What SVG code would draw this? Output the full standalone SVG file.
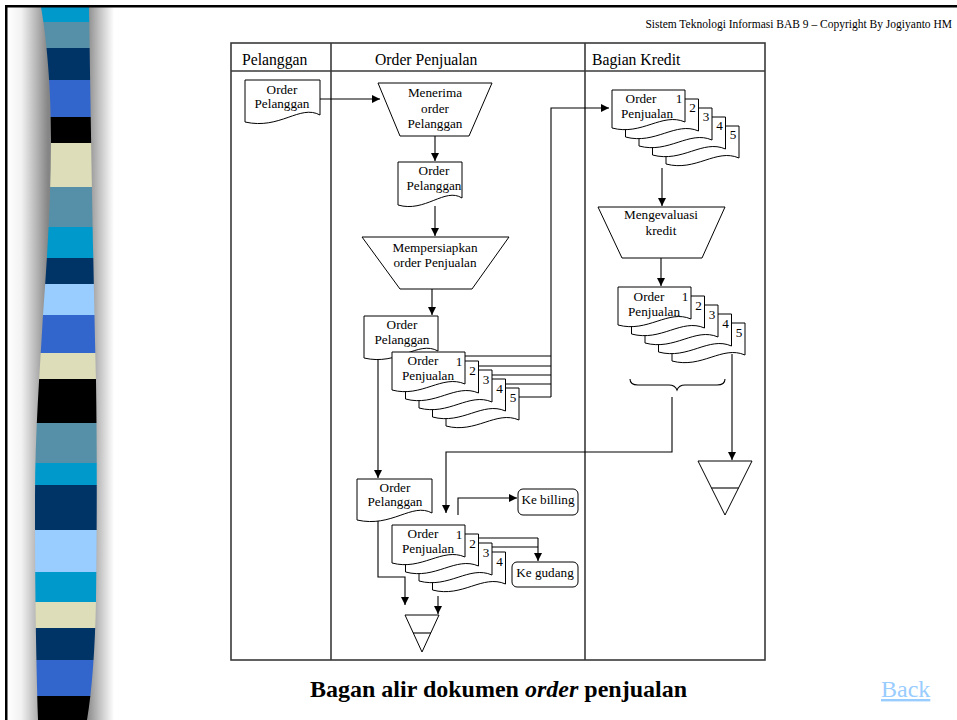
<svg xmlns="http://www.w3.org/2000/svg" xmlns:xlink="http://www.w3.org/1999/xlink" width="957" height="720" viewBox="0 0 957 720">
<style>
.ln{stroke:#000;stroke-width:1.1;fill:none}
.arr{marker-end:url(#ah)}
.doc{fill:#fff;stroke:#000;stroke-width:1}
.lane{stroke:#3a3a3a;stroke-width:1.6;fill:none}
.t{font-family:"Liberation Serif","Times New Roman",serif;font-size:13.2px;text-anchor:middle;fill:#000}
.h{font-family:"Liberation Serif","Times New Roman",serif;font-size:15.7px;fill:#000}
.n{font-family:"Liberation Serif","Times New Roman",serif;font-size:13.2px;text-anchor:middle;fill:#000}
</style>
<defs>
<marker id="ah" viewBox="0 0 10 10" refX="10" refY="5" markerWidth="9" markerHeight="8" markerUnits="userSpaceOnUse" orient="auto">
<path d="M0,0 L10,5 L0,10 Z" fill="#000"/>
</marker>
<path id="sd" d="M0,0 H73 V32 C50,22 30,46 0,38 Z"/>
<linearGradient id="gl" gradientUnits="userSpaceOnUse" x1="7" y1="0" x2="48" y2="0">
<stop offset="0" stop-color="#ffffff"/>
<stop offset="0.35" stop-color="#f2f2f2"/>
<stop offset="0.75" stop-color="#b0b0b0"/>
<stop offset="1" stop-color="#858585"/>
</linearGradient>
<linearGradient id="gr" gradientUnits="userSpaceOnUse" x1="86" y1="0" x2="114" y2="0">
<stop offset="0" stop-color="#858585"/>
<stop offset="0.4" stop-color="#b8b8b8"/>
<stop offset="1" stop-color="#ffffff"/>
</linearGradient>
<clipPath id="strip">
<path d="M41,7 C47,40 51,90 51,140 C51,200 47,260 43,315 C40,370 35,430 35,500 C35,590 36,650 38,720 L87,720 C92,690 95,650 96,600 C97,520 97,450 96,380 C94,300 92,200 89,7 Z"/>
</clipPath>
</defs>
<rect x="0" y="0" width="957" height="720" fill="#fff"/>
<g id="sidebar">
<rect x="7" y="7" width="45" height="713" fill="url(#gl)"/>
<rect x="86" y="7" width="30" height="713" fill="url(#gr)"/>
<g clip-path="url(#strip)">
<rect x="30" y="7" width="75" height="15" fill="#0099CC"/>
<rect x="30" y="22" width="75" height="26" fill="#5590A8"/>
<rect x="30" y="48" width="75" height="32" fill="#003366"/>
<rect x="30" y="80" width="75" height="37" fill="#3366CC"/>
<rect x="30" y="117" width="75" height="26" fill="#000000"/>
<rect x="30" y="143" width="75" height="44" fill="#DDDDB9"/>
<rect x="30" y="187" width="75" height="40" fill="#5590A8"/>
<rect x="30" y="227" width="75" height="31" fill="#0099CC"/>
<rect x="30" y="258" width="75" height="26" fill="#003366"/>
<rect x="30" y="284" width="75" height="31" fill="#99CCFF"/>
<rect x="30" y="315" width="75" height="38" fill="#3366CC"/>
<rect x="30" y="353" width="75" height="26" fill="#DDDDB9"/>
<rect x="30" y="379" width="75" height="44" fill="#000000"/>
<rect x="30" y="423" width="75" height="40" fill="#5590A8"/>
<rect x="30" y="463" width="75" height="22" fill="#0099CC"/>
<rect x="30" y="485" width="75" height="45" fill="#003366"/>
<rect x="30" y="530" width="75" height="42" fill="#99CCFF"/>
<rect x="30" y="572" width="75" height="30" fill="#0099CC"/>
<rect x="30" y="602" width="75" height="26" fill="#DDDDB9"/>
<rect x="30" y="628" width="75" height="32" fill="#003366"/>
<rect x="30" y="660" width="75" height="36" fill="#3366CC"/>
<rect x="30" y="696" width="75" height="24" fill="#000000"/>
</g>
</g>
<g id="frame">
<rect x="5" y="5" width="952" height="2.5" fill="#000"/>
<rect x="5" y="5" width="2.5" height="715" fill="#000"/>
</g>
<text x="952" y="28" text-anchor="end" font-family="Liberation Serif, Times New Roman, serif" font-size="11.5">Sistem Teknologi Informasi BAB 9 – Copyright By Jogiyanto HM</text>

<g id="lanes">
<rect class="lane" x="231" y="43" width="534" height="617"/>
<line class="lane" x1="231" y1="71" x2="765" y2="71"/>
<line class="lane" x1="331" y1="43" x2="331" y2="660"/>
<line class="lane" x1="585" y1="43" x2="585" y2="660"/>
<text class="h" x="242" y="65">Pelanggan</text>
<text class="h" x="375" y="65">Order Penjualan</text>
<text class="h" x="592" y="65">Bagian Kredit</text>
</g>

<g id="connectors">
<path class="ln arr" d="M320,99 H380"/>
<path class="ln arr" d="M435,136 V161"/>
<path class="ln arr" d="M435,206 V236"/>
<path class="ln arr" d="M432,289 V315"/>
<path class="ln arr" d="M378,360 V478"/>
<path class="ln" d="M465,356 H551 M478.5,366 H551 M492,375 H551 M505.5,384 H551 M519,397 H551"/>
<path class="ln arr" d="M551,397 V108 H609"/>
<path class="ln arr" d="M662,168 V206"/>
<path class="ln arr" d="M661,258 V286"/>
<path class="ln arr" d="M732,354 V460"/>
<path class="ln arr" d="M672,397 V452 H446 V513"/>
<path class="ln arr" d="M458,515 V498 H517"/>
<path class="ln" d="M478.5,538 H538 M492,547 H538"/>
<path class="ln arr" d="M538,538 V561"/>
<path class="ln arr" d="M378,521 V577 H405 V605"/>
<path class="ln arr" d="M438,596 V614"/>
</g>

<g id="doc-pelanggan">
<path class="doc" d="M245,80 H320 V115 C300,104 280,130 245,122 Z"/>
<text class="t" x="282" y="94">Order</text>
<text class="t" x="282" y="108">Pelanggan</text>
</g>

<g id="proc-menerima">
<polygon class="doc" points="378,83 492,83 469,136 400,136"/>
<text class="t" x="435" y="97">Menerima</text>
<text class="t" x="435" y="113">order</text>
<text class="t" x="435" y="128">Pelanggan</text>
</g>

<g id="doc-order-2">
<path class="doc" d="M398,162 H462 V198 C445,187 425,213 398,205 Z"/>
<text class="t" x="434" y="175">Order</text>
<text class="t" x="434" y="190">Pelanggan</text>
</g>

<g id="proc-mempersiapkan">
<polygon class="doc" points="362,237 509,237 472,289 400,289"/>
<text class="t" x="435" y="252">Mempersiapkan</text>
<text class="t" x="435" y="267">order Penjualan</text>
</g>

<g id="doc-order-3">
<path class="doc" d="M364,316 H438 V351 C418,340 398,366 364,358 Z"/>
<text class="t" x="402" y="329">Order</text>
<text class="t" x="402" y="344">Pelanggan</text>
</g>

<g id="stack-penjualan-1">
<use href="#sd" class="doc" x="446" y="388"/>
<use href="#sd" class="doc" x="432.5" y="379"/>
<use href="#sd" class="doc" x="419" y="370"/>
<use href="#sd" class="doc" x="405.5" y="361"/>
<use href="#sd" class="doc" x="392" y="352"/>
<text class="t" x="423" y="365">Order</text>
<text class="t" x="428" y="380">Penjualan</text>
<text class="n" x="459" y="366">1</text>
<text class="n" x="472.5" y="375">2</text>
<text class="n" x="486" y="384">3</text>
<text class="n" x="499.5" y="393">4</text>
<text class="n" x="513" y="402">5</text>
</g>

<g id="stack-kredit-1">
<use href="#sd" class="doc" x="666" y="126"/>
<use href="#sd" class="doc" x="652.5" y="117"/>
<use href="#sd" class="doc" x="639" y="108"/>
<use href="#sd" class="doc" x="625.5" y="99"/>
<use href="#sd" class="doc" x="612" y="90"/>
<text class="t" x="641" y="103">Order</text>
<text class="t" x="647" y="118">Penjualan</text>
<text class="n" x="679" y="103">1</text>
<text class="n" x="692.5" y="112">2</text>
<text class="n" x="706" y="121">3</text>
<text class="n" x="719.5" y="130">4</text>
<text class="n" x="733" y="139">5</text>
</g>

<g id="proc-mengevaluasi">
<polygon class="doc" points="598,207 725,207 702,258 622,258"/>
<text class="t" x="661" y="219">Mengevaluasi</text>
<text class="t" x="661" y="235">kredit</text>
</g>

<g id="stack-kredit-2">
<use href="#sd" class="doc" x="672" y="323"/>
<use href="#sd" class="doc" x="658.5" y="314"/>
<use href="#sd" class="doc" x="645" y="305"/>
<use href="#sd" class="doc" x="631.5" y="296"/>
<use href="#sd" class="doc" x="618" y="287"/>
<text class="t" x="649" y="301">Order</text>
<text class="t" x="654" y="316">Penjualan</text>
<text class="n" x="685" y="301">1</text>
<text class="n" x="698.5" y="310">2</text>
<text class="n" x="712" y="319">3</text>
<text class="n" x="725.5" y="328">4</text>
<text class="n" x="739" y="337">5</text>
</g>

<g id="brace">
<path class="ln" d="M630,379 Q630,385 638,385 L669,385 Q675,385 677,390 Q679,385 685,385 L717,385 Q725,385 725,379"/>
</g>

<g id="file-kredit">
<polygon class="doc" points="698,461 752,461 725,515"/>
<line class="ln" x1="711.5" y1="488" x2="738.5" y2="488"/>
</g>

<g id="doc-order-4">
<path class="doc" d="M357,479 H432 V513 C412,502 392,528 357,520 Z"/>
<text class="t" x="395" y="492">Order</text>
<text class="t" x="395" y="506">Pelanggan</text>
</g>

<g id="stack-penjualan-2">
<use href="#sd" class="doc" x="432.5" y="552"/>
<use href="#sd" class="doc" x="419" y="543"/>
<use href="#sd" class="doc" x="405.5" y="534"/>
<use href="#sd" class="doc" x="392" y="525"/>
<text class="t" x="423" y="538">Order</text>
<text class="t" x="428" y="553">Penjualan</text>
<text class="n" x="459" y="539">1</text>
<text class="n" x="472.5" y="548">2</text>
<text class="n" x="486" y="557">3</text>
<text class="n" x="499.5" y="566">4</text>
</g>

<g id="ke-billing">
<rect class="doc" x="518" y="489" width="60" height="26" rx="5"/>
<text class="t" x="548" y="504">Ke billing</text>
</g>

<g id="ke-gudang">
<rect class="doc" x="512" y="562" width="66" height="25" rx="5"/>
<text class="t" x="545" y="577">Ke gudang</text>
</g>

<g id="file-order">
<polygon class="doc" points="405,615 439,615 422,652"/>
<line class="ln" x1="413" y1="633" x2="431" y2="633"/>
</g>

<text x="310" y="697" font-family="Liberation Serif, Times New Roman, serif" font-size="24" font-weight="bold">Bagan alir dokumen <tspan font-style="italic">order</tspan> penjualan</text>
<text x="881" y="697" font-family="Liberation Serif, Times New Roman, serif" font-size="24" fill="#99CCFF" text-decoration="underline">Back</text>
</svg>
